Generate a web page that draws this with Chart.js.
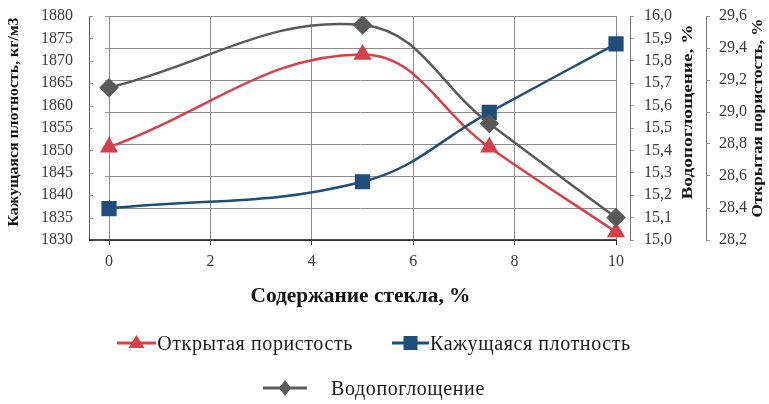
<!DOCTYPE html>
<html><head><meta charset="utf-8">
<script src="https://cdn.jsdelivr.net/npm/chart.js@4/dist/chart.umd.min.js"></script>
<style>
html,body{margin:0;padding:0;background:#fff;}
#wrap{position:relative;width:769px;height:404px;overflow:hidden;}
#c{position:absolute;left:0;top:0;}
.row{position:absolute;left:0;width:748px;display:flex;justify-content:center;align-items:center;font-family:'Liberation Serif',serif;font-size:20px;letter-spacing:0.6px;color:#1a1a1a;white-space:nowrap;line-height:24px;}
.item{display:flex;align-items:center;}
.item svg{display:block;}
</style></head><body>
<div id="wrap"><canvas id="c" width="769" height="404"></canvas></div>
<script>
// ---- data ----
const glassContent = [0, 5, 7.5, 10];
const openPorosity = [28.78, 29.36, 28.78, 28.25];      // %, right outer axis
const apparentDensity = [1837, 1843, 1858.5, 1873.8];   // kg/m3, left axis
const waterAbsorption = [15.68, 15.96, 15.52, 15.10];   // %, right inner axis
const xTickValues = [0, 2, 4, 6, 8, 10];
const densityTicks = [1830, 1835, 1840, 1845, 1850, 1855, 1860, 1865, 1870, 1875, 1880];
const waterTicks = [15.0, 15.1, 15.2, 15.3, 15.4, 15.5, 15.6, 15.7, 15.8, 15.9, 16.0];
const porosityTicks = [28.2, 28.4, 28.6, 28.8, 29.0, 29.2, 29.4, 29.6];
const seriesNames = ['Открытая пористость', 'Кажущаяся плотность', 'Водопоглощение'];
const axisTitles = {
  x: 'Содержание стекла, %',
  density: 'Кажущаяся плотность, кг/м3',
  water: 'Водопоглощение, %',
  porosity: 'Открытая пористость, %'
};

const FONT = "'Liberation Serif', 'Times New Roman', serif";
const RED = '#d5404a', BLUE = '#1f4e79', GRAY = '#5a5a5a';

const pts = arr => arr.map((v, i) => ({x: glassContent[i], y: v}));
const comma = v => Number(v).toFixed(1).replace('.', ',');
const setTicks = list => scale => { scale.ticks = list.map(v => ({value: v})); };
const fixV = w => s => { s.width = w; s.paddingTop = 0; s.paddingBottom = 0; };

function drawTitle(ctx, text, x, y, len, size, rotate) {
  ctx.save();
  ctx.font = 'bold ' + size + 'px ' + FONT;
  ctx.fillStyle = '#111';
  ctx.textAlign = 'center';
  ctx.textBaseline = 'middle';
  const w = ctx.measureText(text).width;
  ctx.translate(x, y);
  if (rotate) ctx.rotate(-Math.PI / 2);
  ctx.scale(len / w, 1);
  ctx.fillText(text, 0, 0);
  ctx.restore();
}

const customDraw = {
  id: 'customDraw',
  beforeDatasetsDraw(chart) {
    const {ctx, chartArea, scales} = chart;
    const xs = scales.x, y2 = scales.y2, y = scales.y;
    const x0 = xs.getPixelForValue(-0.08), x1 = xs.getPixelForValue(10);
    ctx.save();
    ctx.strokeStyle = '#8c8c8c';
    ctx.lineWidth = 1;
    porosityTicks.forEach(v => {
      const py = Math.round(y2.getPixelForValue(v)) + 0.5;
      ctx.beginPath(); ctx.moveTo(x0, py); ctx.lineTo(x1, py); ctx.stroke();
    });
    ctx.strokeStyle = '#888';
    densityTicks.forEach(v => {
      const py = Math.round(y.getPixelForValue(v)) + 0.5;
      ctx.beginPath(); ctx.moveTo(chartArea.left, py); ctx.lineTo(chartArea.left + 4, py); ctx.stroke();
    });
    ctx.strokeStyle = '#111';
    ctx.lineWidth = 1.5;
    ctx.beginPath();
    ctx.moveTo(chartArea.left, chartArea.bottom); ctx.lineTo(x1, chartArea.bottom);
    ctx.stroke();
    ctx.restore();
  },
  afterDraw(chart) {
    const {ctx, chartArea, scales} = chart;
    const cy = (chartArea.top + chartArea.bottom) / 2;
    const x1 = scales.x.getPixelForValue(10);
    drawTitle(ctx, axisTitles.density, 14, cy - 6, 209, 15, true);
    drawTitle(ctx, axisTitles.water, scales.y1.left + 58, cy - 16, 175, 15, true);
    drawTitle(ctx, axisTitles.porosity, scales.y2.left + 52, cy - 10, 199, 15, true);
    drawTitle(ctx, axisTitles.x, (chartArea.left + x1) / 2 + 8, chartArea.bottom + 57, 220, 20, false);
  }
};

const tickFont = {family: FONT, size: 16};

const chart = new Chart(document.getElementById('c'), {
  type: 'line',
  data: {
    datasets: [
      {label: seriesNames[0], data: pts(openPorosity), yAxisID: 'y2',
       borderColor: RED, backgroundColor: RED, pointStyle: 'triangle', pointRadius: 8, pointHoverRadius: 8,
       borderWidth: 2.5, tension: 0.4, order: 3},
      {label: seriesNames[1], data: pts(apparentDensity), yAxisID: 'y',
       borderColor: BLUE, backgroundColor: BLUE, pointStyle: 'rect', pointRadius: 9, pointHoverRadius: 9,
       borderWidth: 2.5, tension: 0.4, order: 2},
      {label: seriesNames[2], data: pts(waterAbsorption), yAxisID: 'y1',
       borderColor: GRAY, backgroundColor: GRAY, pointStyle: 'rectRot', pointRadius: 8, pointHoverRadius: 8,
       borderWidth: 2.5, tension: 0.4, order: 1}
    ]
  },
  options: {
    responsive: false,
    animation: false,
    events: [],
    layout: {padding: {left: 0, right: 0, top: 16, bottom: 100}},
    plugins: {legend: {display: false}, tooltip: {enabled: false}},
    scales: {
      x: {
        type: 'linear', min: -0.395, max: 10.276,
        afterBuildTicks: setTicks(xTickValues),
        afterFit: s => { s.height = 64; s.paddingLeft = 0; s.paddingRight = 0; },
        grid: {color: '#8c8c8c', lineWidth: 1, drawTicks: true, tickLength: 5, tickColor: '#222'},
        border: {display: false},
        ticks: {font: tickFont, color: '#3a3a3a', padding: 7, maxRotation: 0, autoSkip: false, callback: v => String(v)},
        title: {display: false}
      },
      y: {
        position: 'left', min: 1830, max: 1880,
        afterBuildTicks: setTicks(densityTicks),
        afterFit: fixV(89),
        grid: {drawOnChartArea: false, drawTicks: false},
        border: {display: true, color: '#555', width: 1},
        ticks: {font: tickFont, color: '#3a3a3a', padding: 16, autoSkip: false, callback: v => String(v)},
        title: {display: false}
      },
      y1: {
        position: 'right', min: 15, max: 16,
        afterBuildTicks: setTicks(waterTicks),
        afterFit: fixV(76),
        grid: {drawOnChartArea: false, drawTicks: true, tickLength: 4, tickColor: '#999'},
        border: {display: true, color: '#777', width: 1},
        ticks: {font: tickFont, color: '#3a3a3a', padding: 10, autoSkip: false, callback: comma}
      },
      y2: {
        position: 'right', min: 28.2, max: 29.6,
        afterBuildTicks: setTicks(porosityTicks),
        afterFit: fixV(63),
        grid: {drawOnChartArea: false, drawTicks: true, tickLength: 4, tickColor: '#999'},
        border: {display: true, color: '#777', width: 1},
        ticks: {font: tickFont, color: '#3a3a3a', padding: 9, autoSkip: false, callback: comma}
      }
    }
  },
  plugins: [customDraw]
});

// ---- HTML legend (line + marker, like the original) ----
function markerSvg(ds, w) {
  const c = ds.borderColor, h = 20, cx = w / 2, cy = h / 2;
  let shape = '';
  if (ds.pointStyle === 'triangle') shape = `<polygon points="${cx},${cy-8} ${cx+8},${cy+5} ${cx-8},${cy+5}" fill="${c}"/>`;
  else if (ds.pointStyle === 'rect') shape = `<rect x="${cx-7}" y="${cy-7}" width="14" height="14" fill="${c}"/>`;
  else shape = `<polygon points="${cx},${cy-8} ${cx+6},${cy} ${cx},${cy+8} ${cx-6},${cy}" fill="${c}"/>`;
  return `<svg width="${w}" height="${h}"><line x1="0" y1="${cy}" x2="${w}" y2="${cy}" stroke="${c}" stroke-width="3"/>${shape}</svg>`;
}
const wrap = document.getElementById('wrap');
const ds = chart.data.datasets;
const rows = [
  {top: 331, items: [{d: ds[0], w: 39, gap: 1, after: 39}, {d: ds[1], w: 37, gap: 1, after: 0}]},
  {top: 376, items: [{d: ds[2], w: 44, gap: 24, after: 0}]}
];
rows.forEach(r => {
  const row = document.createElement('div');
  row.className = 'row';
  row.style.top = r.top + 'px';
  r.items.forEach(it => {
    const el = document.createElement('div');
    el.className = 'item';
    el.style.marginRight = it.after + 'px';
    el.innerHTML = markerSvg(it.d, it.w) + `<span style="margin-left:${it.gap}px">${it.d.label}</span>`;
    row.appendChild(el);
  });
  wrap.appendChild(row);
});
</script>
</body></html>
